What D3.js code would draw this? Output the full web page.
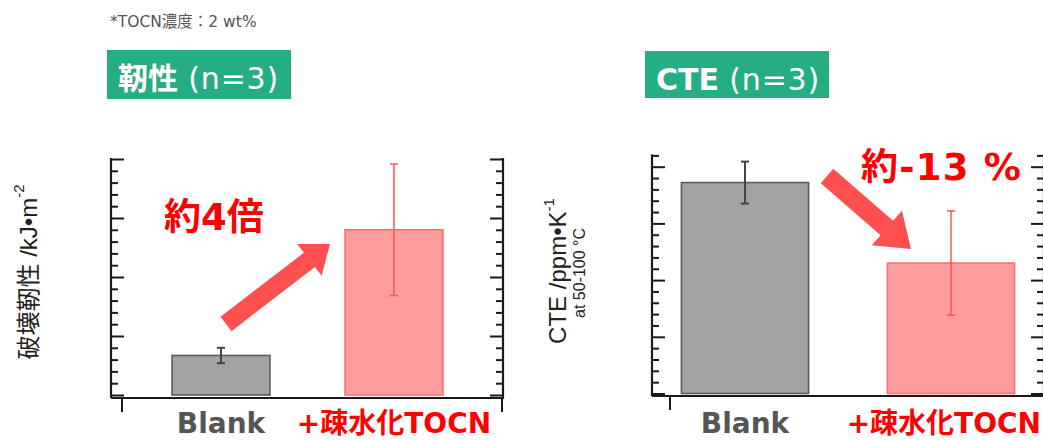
<!DOCTYPE html>
<html>
<head>
<meta charset="utf-8">
<script src="https://cdn.jsdelivr.net/npm/d3@7"></script>
<style>
  body { margin: 0; background: #fff; }
  svg { display: block; }
</style>
</head>
<body>
<script>
const width = 1043, height = 440;
const svg = d3.select("body").append("svg").attr("width", width).attr("height", height);

// data (arbitrary units – the axes carry no numbers)
const categories = ["Blank", "+疎水化TOCN"];
const toughMean = [3.35, 14.0];
const toughErr = [0.65, 5.57];
const cteMean = [18.6, 11.5];
const cteErr = [1.85, 4.6];
const labelColors = ["#555555", "#ff0000"];

const latin = "'DejaVu Sans', 'Noto Sans CJK JP', sans-serif";
const fillColors = ["#a3a3a3", "#ff9c9c"];
const strokeColors = ["#5a5a5a", "#ff6e6e"];
const errColors = ["#444444", "#ff5252"];
const arrowColor = "#ff4f4f";

// note at top
svg.append("text").attr("x", 110).attr("y", 27)
    .attr("font-family", latin).attr("font-size", 15.5).attr("fill", "#555")
    .text("*TOCN濃度：2 wt%");

function titleBox(x, y, w, h, bold, rest) {
    svg.append("rect").attr("x", x).attr("y", y).attr("width", w).attr("height", h).attr("fill", "#25ad83");
    const t = svg.append("text").attr("x", x + 11).attr("y", y + 39)
        .attr("font-family", latin).attr("font-size", 30).attr("fill", "#fff");
    t.append("tspan").attr("font-weight", "bold").text(bold);
    t.append("tspan").attr("letter-spacing", 0.8).text(rest);
}
titleBox(107, 50, 184, 49, "靭性", " (n=3)");
titleBox(645, 51, 184, 47, "CTE", " (n=3)");

function panel(o) {
    const g = svg.append("g");
    const y = d3.scaleLinear().domain([0, o.ymax]).range([o.y0, o.y0 - o.pxPerUnit * o.ymax]);
    const x = d3.scaleBand().domain(categories).range(o.xr).paddingInner(o.pi).paddingOuter(o.pi / 2);
    const majors = d3.range(0, o.ymax + 0.01, 5);
    const minors = d3.range(0, o.ymax + 0.01, 1).filter(v => v % 5 !== 0);
    const top = y(o.ymax) - 1;

    const axisStyle = sel => {
        sel.select(".domain").remove();
        sel.selectAll("line").attr("stroke", "#1a1a1a").attr("stroke-width", 2);
    };
    g.append("g").attr("transform", `translate(${o.xL},0)`)
        .call(d3.axisRight(y).tickValues(majors).tickSize(13).tickFormat("")).call(axisStyle);
    g.append("g").attr("transform", `translate(${o.xL},0)`)
        .call(d3.axisRight(y).tickValues(minors).tickSize(7).tickFormat("")).call(axisStyle);
    g.append("g").attr("transform", `translate(${o.xR},0)`)
        .call(d3.axisLeft(y).tickValues(majors).tickSize(13).tickFormat("")).call(axisStyle);
    g.append("g").attr("transform", `translate(${o.xR},0)`)
        .call(d3.axisLeft(y).tickValues(minors).tickSize(7).tickFormat("")).call(axisStyle);

    // frame lines
    g.append("line").attr("x1", o.xL).attr("x2", o.xL).attr("y1", top).attr("y2", o.base)
        .attr("stroke", "#1a1a1a").attr("stroke-width", 2.2);
    g.append("line").attr("x1", o.xR).attr("x2", o.xR).attr("y1", top).attr("y2", o.base)
        .attr("stroke", "#1a1a1a").attr("stroke-width", 2.2);
    g.append("line").attr("x1", o.xL).attr("x2", o.xR + 1).attr("y1", o.base).attr("y2", o.base)
        .attr("stroke", "#1a1a1a").attr("stroke-width", 2.2);
    o.bottomTicks.forEach(bx => g.append("line").attr("x1", bx).attr("x2", bx)
        .attr("y1", o.base).attr("y2", o.base + 14).attr("stroke", "#1a1a1a").attr("stroke-width", 2));

    // bars
    g.selectAll("rect.bar").data(o.mean).enter().append("rect").attr("class", "bar")
        .attr("x", (d, i) => x(categories[i]))
        .attr("width", x.bandwidth())
        .attr("y", d => y(d))
        .attr("height", d => y(0) - y(d))
        .attr("fill", (d, i) => fillColors[i])
        .attr("stroke", (d, i) => strokeColors[i])
        .attr("stroke-width", 1.6);

    // error bars
    const cap = 4;
    o.mean.forEach((m, i) => {
        const cx = x(categories[i]) + x.bandwidth() / 2;
        const eg = g.append("g").attr("stroke", errColors[i]).attr("stroke-width", i === 0 ? 2 : 1.5);
        eg.append("line").attr("x1", cx).attr("x2", cx).attr("y1", y(m + o.err[i])).attr("y2", y(m - o.err[i]));
        eg.append("line").attr("x1", cx - cap).attr("x2", cx + cap).attr("y1", y(m + o.err[i])).attr("y2", y(m + o.err[i]));
        eg.append("line").attr("x1", cx - cap).attr("x2", cx + cap).attr("y1", y(m - o.err[i])).attr("y2", y(m - o.err[i]));
    });

    // category labels (kept inside the page at the right edge)
    g.selectAll("text.cat").data(categories).enter().append("text").attr("class", "cat")
        .attr("x", d => x(d) + x.bandwidth() / 2)
        .attr("y", 433)
        .attr("text-anchor", "middle")
        .attr("font-family", latin).attr("font-weight", "bold").attr("font-size", 28)
        .attr("fill", (d, i) => labelColors[i])
        .text(d => d)
        .each(function() {
            const cx = +this.getAttribute("x"), half = this.getComputedTextLength() / 2;
            if (cx + half > width - 2) this.setAttribute("x", width - 2 - half);
        });
}

panel({ mean: toughMean, err: toughErr, ymax: 20, y0: 395, pxPerUnit: 11.8,
    xL: 111, xR: 503, base: 398, xr: [134.5, 480.5], pi: 0.434, bottomTicks: [122, 502] });
panel({ mean: cteMean, err: cteErr, ymax: 21, y0: 393.5, pxPerUnit: 11.34,
    xL: 652, xR: 1044, base: 396, xr: [642, 1054], pi: 0.383, bottomTicks: [670] });

// block arrows
function arrow(tail, tip, shaftW, headW, headL) {
    const dx = tip[0] - tail[0], dy = tip[1] - tail[1];
    const len = Math.hypot(dx, dy);
    const ux = dx / len, uy = dy / len, nx = -uy, ny = ux;
    const bx = tip[0] - ux * headL, by = tip[1] - uy * headL;
    const p = (px, py, s) => [px + nx * s, py + ny * s];
    const pts = [p(tail[0], tail[1], shaftW / 2), p(bx, by, shaftW / 2), p(bx, by, headW / 2), tip,
        p(bx, by, -headW / 2), p(bx, by, -shaftW / 2), p(tail[0], tail[1], -shaftW / 2)];
    svg.append("path").attr("d", d3.line()(pts) + "Z").attr("fill", arrowColor);
}
arrow([226, 324], [330, 244], 18, 40, 26);
arrow([827, 176], [911, 249], 19, 46, 32);

// annotations
svg.append("text").attr("x", 164).attr("y", 230)
    .attr("font-family", latin).attr("font-weight", "bold").attr("font-size", 37).attr("fill", "#ff0000")
    .text("約4倍");
svg.append("text").attr("x", 861).attr("y", 180)
    .attr("font-family", latin).attr("font-weight", "bold").attr("font-size", 37).attr("fill", "#ff0000")
    .attr("letter-spacing", 1.2)
    .text("約-13 %");

// y-axis labels
const yl = svg.append("text").attr("transform", "translate(37,272) rotate(-90)")
    .attr("text-anchor", "middle").attr("font-family", "'Liberation Sans', 'Noto Sans CJK JP', sans-serif")
    .attr("font-size", 24).attr("fill", "#222");
yl.append("tspan").text("破壊靭性 /kJ•m");
yl.append("tspan").attr("dy", -13).attr("font-size", 15).text("-2");

const cl = svg.append("text").attr("transform", "translate(566,271) rotate(-90)")
    .attr("text-anchor", "middle").attr("font-family", "'Liberation Sans', sans-serif")
    .attr("font-size", 24).attr("fill", "#222");
cl.append("tspan").text("CTE /ppm•K");
cl.append("tspan").attr("dy", -12).attr("font-size", 15).text("-1");
svg.append("text").attr("transform", "translate(585,273) rotate(-90)")
    .attr("text-anchor", "middle").attr("font-family", "'Liberation Sans', sans-serif")
    .attr("font-size", 16).attr("fill", "#222")
    .text("at 50-100 °C");
</script>
</body>
</html>
